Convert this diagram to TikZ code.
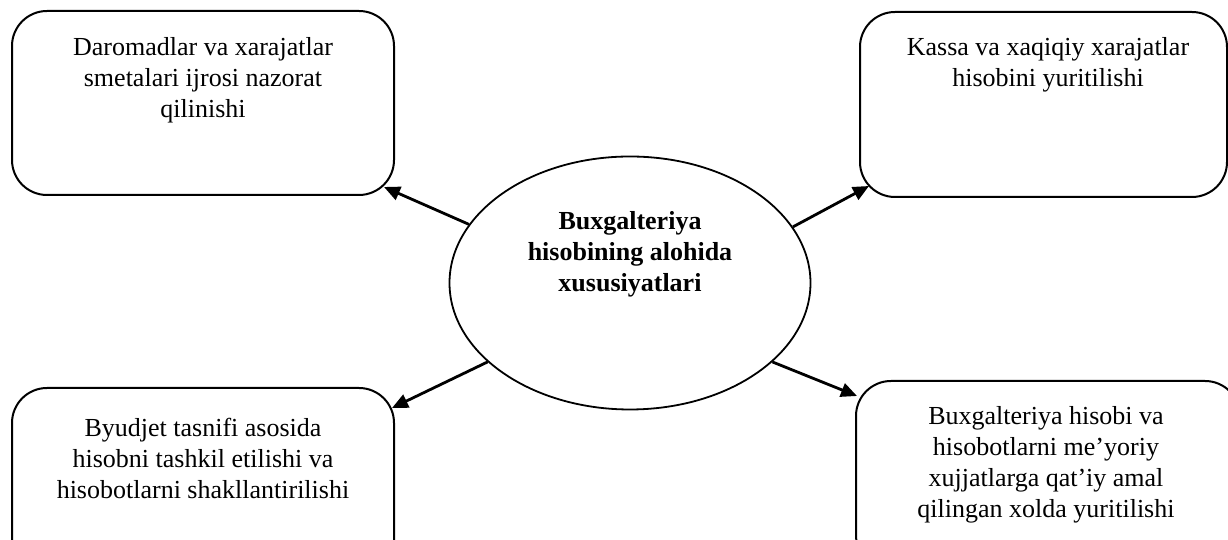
\documentclass[tikz,border=0pt]{standalone}
\usepackage{fontspec}
\setmainfont{Liberation Serif}
\usetikzlibrary{calc,shapes.geometric,arrows.meta}
\begin{document}
\begin{tikzpicture}[x=0.5pt,y=0.5pt,
  infobox/.style={draw,line width=1pt,rounded corners=17.5pt,inner sep=0pt},
  boxtext/.style={align=center,inner sep=0pt,font=\fontsize{13}{15.5}\selectfont},
  core/.style={draw,ellipse,line width=0.9pt,inner sep=0pt,minimum width=180.5pt,minimum height=126.5pt},
  link/.style={line width=1.4pt,-{Triangle[length=8pt,width=7pt]}}]
\useasboundingbox (0,0) rectangle (1228,540);
\clip (0,0) rectangle (1228,540);

% four feature boxes
\node[infobox,minimum width=191pt,minimum height=92pt] (tl) at (203,437) {};
\node[infobox,minimum width=183.5pt,minimum height=92.5pt] (tr) at (1043.5,435.5) {};
\node[infobox,minimum width=191pt,minimum height=98.5pt] (bl) at (203,53.5) {};
\node[infobox,minimum width=192pt,minimum height=94.5pt] (br) at (1048,64.5) {};

\node[boxtext] (tltext) at (203,460) {Daromadlar va xarajatlar\\smetalari ijrosi nazorat\\qilinishi};
\node[boxtext] (trtext) at (1048,475) {Kassa va xaqiqiy xarajatlar\\hisobini yuritilishi};
\node[boxtext] (bltext) at (203,82) {Byudjet tasnifi asosida\\hisobni tashkil etilishi va\\hisobotlarni shakllantirilishi};
\node[boxtext] (brtext) at (1046,75.5) {Buxgalteriya hisobi va\\hisobotlarni me’yoriy\\xujjatlarga qat’iy amal\\qilingan xolda yuritilishi};

% central ellipse
\node[core] (c) at (630,257) {};
\node[boxtext,font=\fontsize{13}{15.5}\selectfont\bfseries] (ctext) at (630,285.5) {Buxgalteriya\\hisobining alohida\\xususiyatlari};

% arrows from the centre to each box
\draw[link] (c.160.4) -- ($(tl.south east)+(-11,9)$);
\draw[link] (c.19.9) -- ($(tr.south west)+(10,12)$);
\draw[link] (c.209.1) -- ($(bl.north east)+(-3,-21)$);
\draw[link] (c.331.1) -- ($(br.north west)+(2,-16)$);
\end{tikzpicture}
\end{document}
